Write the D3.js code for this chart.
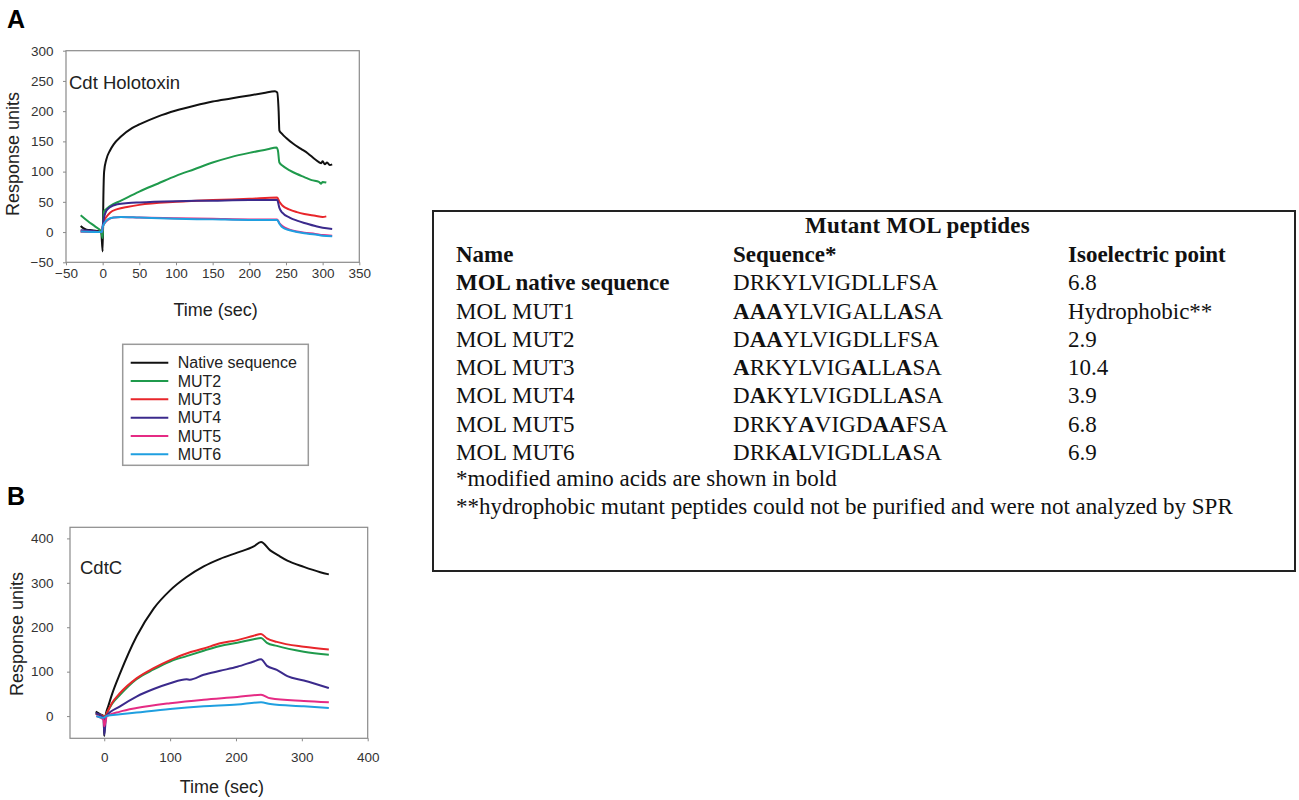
<!DOCTYPE html>
<html>
<head>
<meta charset="utf-8">
<script src="https://cdn.jsdelivr.net/npm/d3@7"></script>
<style>
    body { margin: 0; background: #fff; }
    svg { display: block; }
    .tick text { font-family: 'Liberation Sans', Arial, sans-serif; font-size: 13.5px; fill: #333; }
    .tick line { stroke: #8a8a8a; }
</style>
</head>
<body>
<script>
// ---- data: panel A (Cdt holotoxin), [time, response] ----
const holoNative = [[-30, 10], [-27, 7], [-22, 4], [-15, 3], [-8, 2], [-2, 0], [0, -32], [1, 60], [2, 100],
    [5, 120], [10, 135], [15, 145], [25, 158], [40, 172], [50, 178], [75, 191], [100, 201], [125, 209],
    [150, 216], [175, 221], [200, 226], [220, 230], [235, 233], [238, 231], [240, 200], [241, 168],
    [245, 162], [250, 156], [260, 146], [270, 138], [280, 130], [290, 120], [298, 114], [300, 117],
    [303, 112], [306, 115], [310, 111], [313, 112]]
const holoMut2 = [[-30, 28], [-20, 18], [-10, 9], [-2, 1], [0, -10], [1, 20], [2, 35], [5, 38], [10, 43],
    [25, 52], [50, 67], [75, 80], [100, 93], [125, 104], [150, 115], [175, 124], [200, 131], [225, 137],
    [237, 140], [239, 135], [241, 115], [245, 110], [255, 102], [265, 96], [275, 91], [285, 86],
    [295, 83], [298, 80], [300, 83], [305, 82]]
const holoMut3 = [[-30, 1], [-15, 1], [-1, 0], [0, 8], [2, 18], [5, 25], [10, 32], [20, 38], [35, 42],
    [50, 45], [100, 50], [150, 53], [200, 55], [238, 57], [241, 50], [245, 44], [255, 37], [265, 33],
    [275, 30], [290, 27], [300, 25], [305, 26]]
const holoMut4 = [[-30, 3], [-15, 2], [-1, 0], [0, 10], [2, 25], [5, 35], [10, 41], [20, 46], [35, 48],
    [50, 49], [100, 51], [150, 52], [200, 53], [238, 53], [241, 40], [245, 32], [255, 24], [265, 19],
    [275, 15], [290, 10], [300, 7], [313, 5]]
const holoMut5 = [[-30, 1], [-1, 0], [0, 8], [3, 15], [7, 20], [15, 24], [25, 25], [50, 24], [100, 23],
    [150, 22], [200, 21], [238, 21], [241, 15], [245, 10], [255, 4], [265, 1], [275, -1], [290, -3],
    [300, -5], [313, -6]]
const holoMut6 = [[-30, 1], [-1, 0], [0, 8], [3, 16], [7, 21], [15, 24], [25, 25], [50, 24], [100, 22],
    [150, 21], [200, 20], [238, 20], [241, 14], [245, 8], [255, 3], [265, 0], [275, -2], [290, -4],
    [300, -6], [313, -7]]

// ---- data: panel B (CdtC) ----
const cdtcNative = [[-13, 10], [-6, 4], [-1, 0], [0, -45], [1, -10], [3, 8], [6, 22], [12, 50], [24, 96],
    [49, 179], [75, 242], [100, 283], [125, 313], [151, 337], [176, 354], [202, 368], [227, 382],
    [238, 392], [252, 373], [265, 361], [278, 350], [303, 336], [328, 324], [341, 319]]
const cdtcMut2 = [[-13, 5], [-1, 0], [0, -5], [4, 7], [12, 28], [24, 48], [49, 83], [75, 105], [100, 123],
    [125, 135], [151, 147], [176, 158], [202, 165], [227, 173], [238, 176], [247, 165], [262, 158],
    [303, 145], [341, 138]]
const cdtcMut3 = [[-13, 5], [-1, 0], [0, -5], [4, 7], [12, 30], [24, 52], [49, 85], [75, 108], [100, 126],
    [125, 141], [151, 152], [176, 164], [202, 171], [227, 181], [238, 185], [247, 175], [262, 167],
    [303, 156], [341, 150]]
const cdtcMut4 = [[-13, 7], [-1, -4], [0, -42], [3, 0], [24, 22], [49, 44], [75, 61], [100, 74], [125, 83],
    [130, 82], [151, 93], [176, 102], [202, 111], [227, 123], [238, 128], [247, 113], [262, 104],
    [278, 90], [303, 80], [341, 63]]
const cdtcMut5 = [[-12, 0], [-1, -8], [0, -23], [4, 0], [24, 10], [49, 18], [100, 29], [151, 37],
    [202, 43], [238, 48], [252, 40], [303, 34], [341, 31]]
const cdtcMut6 = [[-12, 0], [-1, -4], [4, 1], [24, 4], [49, 8], [100, 16], [151, 22], [202, 26],
    [238, 31], [252, 27], [303, 22], [341, 18]]

// ---- legend ----
const seriesNames = ['Native sequence', 'MUT2', 'MUT3', 'MUT4', 'MUT5', 'MUT6']
const seriesColors = ['#111111', '#1f9a4c', '#e8262b', '#3b2a8c', '#e52b84', '#1f9fe0']

// ---- ticks ----
const holoXTicks = [-50, 0, 50, 100, 150, 200, 250, 300, 350]
const holoYTicks = [-50, 0, 50, 100, 150, 200, 250, 300]
const cdtcXTicks = [0, 100, 200, 300, 400]
const cdtcYTicks = [0, 100, 200, 300, 400]

// ---- table ----
const tableTitle = 'Mutant MOL peptides'
const tableHeader = ['Name', 'Sequence*', 'Isoelectric point']
const peptideNames = ['MOL native sequence', 'MOL MUT1', 'MOL MUT2', 'MOL MUT3', 'MOL MUT4', 'MOL MUT5', 'MOL MUT6']
const peptideSeqs = ['DRKYLVIGDLLFSA', 'AAAYLVIGALLASA', 'DAAYLVIGDLLFSA', 'ARKYLVIGALLASA',
    'DAKYLVIGDLLASA', 'DRKYAVIGDAAFSA', 'DRKALVIGDLLASA']
const boldResidues = [[], [0, 1, 2, 11], [1, 2], [0, 8, 11], [1, 11], [4, 9, 10], [3, 11]]
const isoPoints = ['6.8', 'Hydrophobic**', '2.9', '10.4', '3.9', '6.8', '6.9']
const footnotes = ['*modified amino acids are shown in bold',
    '**hydrophobic mutant peptides could not be purified and were not analyzed by SPR']


const sans = "'Liberation Sans', Arial, sans-serif"
const serif = "'Liberation Serif', 'Times New Roman', serif"

let svg = d3.select('body').append('svg')
    .attr('width', 1299)
    .attr('height', 800)

// panel A
drawPanel({
    series: [holoNative, holoMut2, holoMut3, holoMut4, holoMut5, holoMut6],
    xDomain: [-50, 350], xRange: [66, 359.3],
    yDomain: [-50, 300], yRange: [262.3, 50.7],
    xTicks: holoXTicks, yTicks: holoYTicks,
    xPad: 3.5, yPad: 9.5,
    title: 'Cdt Holotoxin', titleX: 69, titleY: 89,
    xLabelY: 316, yLabelX: 19, yLabelY: 154
})

// panel B
drawPanel({
    series: [cdtcNative, cdtcMut2, cdtcMut3, cdtcMut4, cdtcMut5, cdtcMut6],
    xDomain: [-52, 400], xRange: [70, 367.7],
    yDomain: [-50, 425], yRange: [738.3, 527.3],
    xTicks: cdtcXTicks, yTicks: cdtcYTicks,
    xPad: 11, yPad: 13.5,
    title: 'CdtC', titleX: 80, titleY: 574,
    xLabelY: 793, yLabelX: 23, yLabelY: 634
})

// panel letters
svg.append('text').attr('x', 7).attr('y', 28)
    .attr('font-family', sans).attr('font-weight', 'bold').attr('font-size', 25)
    .text('A')
svg.append('text').attr('x', 7).attr('y', 505)
    .attr('font-family', sans).attr('font-weight', 'bold').attr('font-size', 25)
    .text('B')

drawLegend()
drawTable()


function drawPanel(p) {
    const x = d3.scaleLinear().domain(p.xDomain).range(p.xRange)
    const y = d3.scaleLinear().domain(p.yDomain).range(p.yRange)

    // frame
    svg.append('rect')
        .attr('x', p.xRange[0]).attr('y', p.yRange[1])
        .attr('width', p.xRange[1] - p.xRange[0])
        .attr('height', p.yRange[0] - p.yRange[1])
        .attr('fill', 'none')
        .attr('stroke', '#8a8a8a')
        .attr('stroke-width', 1.2)

    svg.append('g')
        .attr('transform', `translate(0,${p.yRange[0]})`)
        .call(d3.axisBottom(x).tickValues(p.xTicks).tickSize(3).tickPadding(p.xPad))
        .call(g => g.select('.domain').remove())

    svg.append('g')
        .attr('transform', `translate(${p.xRange[0]},0)`)
        .call(d3.axisLeft(y).tickValues(p.yTicks).tickSize(3).tickPadding(p.yPad))
        .call(g => g.select('.domain').remove())

    const line = d3.line()
        .x(d => x(d[0]))
        .y(d => y(d[1]))
        .curve(d3.curveMonotoneX)

    p.series.forEach((s, i) => {
        svg.append('path')
            .datum(s)
            .attr('fill', 'none')
            .attr('stroke', seriesColors[i])
            .attr('stroke-width', 2)
            .attr('stroke-linejoin', 'round')
            .attr('d', line)
    })

    svg.append('text')
        .attr('x', p.titleX).attr('y', p.titleY)
        .attr('font-family', sans).attr('font-size', 18.5).attr('fill', '#222')
        .text(p.title)

    svg.append('text')
        .attr('x', (p.xRange[0] + p.xRange[1]) / 2 + 3).attr('y', p.xLabelY)
        .attr('text-anchor', 'middle')
        .attr('font-family', sans).attr('font-size', 18).attr('fill', '#222')
        .text('Time (sec)')

    svg.append('text')
        .attr('transform', `translate(${p.yLabelX},${p.yLabelY}) rotate(-90)`)
        .attr('text-anchor', 'middle')
        .attr('font-family', sans).attr('font-size', 18).attr('fill', '#222')
        .text('Response units')
}

function drawLegend() {
    const rowY = d3.scalePoint().domain(seriesNames).range([362.7, 454.3])

    svg.append('rect')
        .attr('x', 122.7).attr('y', 344.3)
        .attr('width', 185.6).attr('height', 121)
        .attr('fill', 'none')
        .attr('stroke', '#9a9a9a')
        .attr('stroke-width', 1.5)

    seriesNames.forEach((name, i) => {
        svg.append('line')
            .attr('x1', 130.7).attr('x2', 168.3)
            .attr('y1', rowY(name)).attr('y2', rowY(name))
            .attr('stroke', seriesColors[i])
            .attr('stroke-width', 2)
        svg.append('text')
            .attr('x', 177.7).attr('y', rowY(name))
            .attr('dy', '0.35em')
            .attr('font-family', sans).attr('font-size', 16).attr('fill', '#222')
            .text(name)
    })
}

function drawTable() {
    const rowY = i => 262 + 28.25 * i
    const colX = [456, 733, 1068]
    const fs = 23

    svg.append('rect')
        .attr('x', 433).attr('y', 211)
        .attr('width', 862).attr('height', 360)
        .attr('fill', 'none')
        .attr('stroke', '#222')
        .attr('stroke-width', 2)

    let t = svg.append('g')
        .attr('font-family', serif)
        .attr('font-size', fs)
        .attr('fill', '#111')

    t.append('text')
        .attr('x', 805).attr('y', 233)
        .attr('font-weight', 'bold')
        .attr('letter-spacing', 0.2)
        .text(tableTitle)

    tableHeader.forEach((h, j) => {
        t.append('text')
            .attr('x', colX[j]).attr('y', rowY(0))
            .attr('font-weight', 'bold')
            .text(h)
    })

    peptideNames.forEach((name, i) => {
        const y0 = rowY(i + 1)
        t.append('text')
            .attr('x', colX[0]).attr('y', y0)
            .attr('font-weight', i == 0 ? 'bold' : 'normal')
            .text(name)

        // sequence with modified residues in bold
        let seq = t.append('text')
            .attr('x', colX[1]).attr('y', y0)
        peptideSeqs[i].split('').forEach((c, k) => {
            seq.append('tspan')
                .attr('font-weight', boldResidues[i].includes(k) ? 'bold' : 'normal')
                .text(c)
        })

        t.append('text')
            .attr('x', colX[2]).attr('y', y0)
            .text(isoPoints[i])
    })

    footnotes.forEach((f, i) => {
        t.append('text')
            .attr('x', colX[0]).attr('y', 486 + 27.5 * i)
            .text(f)
    })
}
</script>
</body>
</html>
